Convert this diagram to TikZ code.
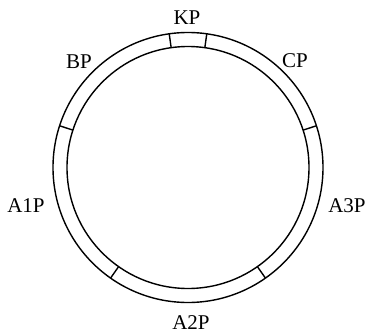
\documentclass[tikz,border=0pt]{standalone}
\usepackage{fontspec}
\setmainfont{Liberation Serif}
\usetikzlibrary{calc}
\begin{document}
\begin{tikzpicture}[x=1pt,y=-1pt,
  ring/.style={line width=1.4pt},
  divider/.style={line width=1.4pt},
  lbl/.style={font=\fontsize{21}{24}\selectfont, inner sep=0pt}]
\useasboundingbox (0,0) rectangle (367,335);
\coordinate (c) at (188,167.5);
\draw[ring] (c) circle[radius=135];
\draw[ring] (c) circle[radius=121];
\foreach \a in {82,98,162,235,305,18}{
  \draw[divider] ($(c)+(\a:121 and -121)$) -- ($(c)+(\a:135 and -135)$);
}
\node[lbl] (kp) at (187,18) {KP};
\node[lbl] (bp) at (79,62) {BP};
\node[lbl] (cp) at (295,61) {CP};
\node[lbl] (a1p) at (26,206) {A1P};
\node[lbl] (a3p) at (347,206) {A3P};
\node[lbl] (a2p) at (191,323) {A2P};
\end{tikzpicture}
\end{document}
